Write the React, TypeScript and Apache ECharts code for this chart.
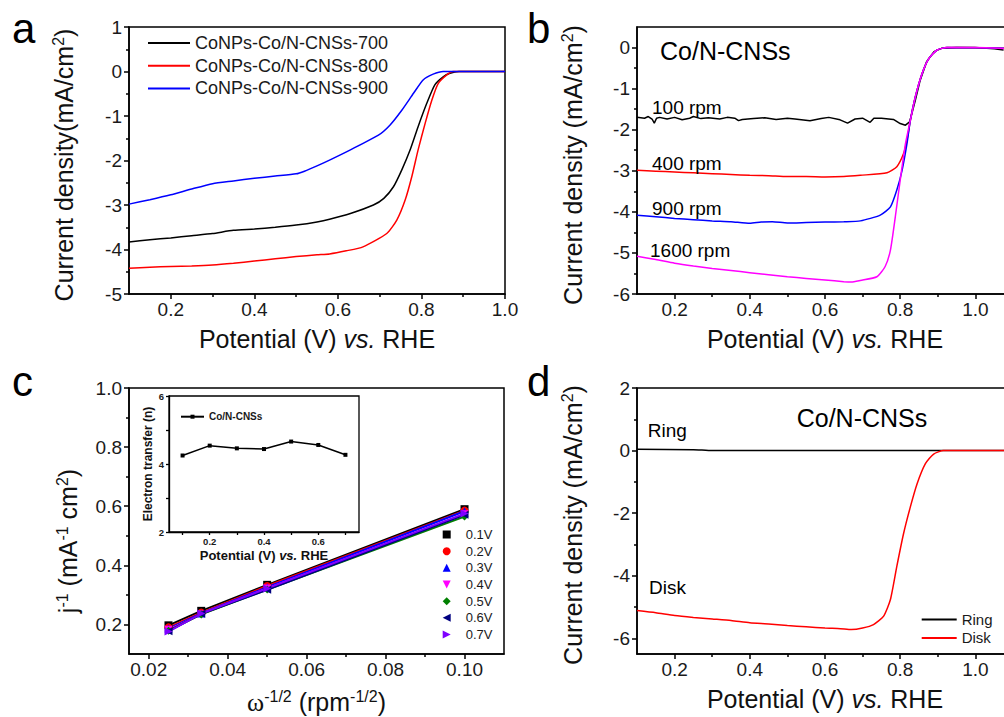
import React, { useEffect, useRef } from "react";
import * as echarts from "echarts";

const FONT = 'Arial, "Liberation Sans", Helvetica, sans-serif';
const SERIF = '"Liberation Serif", "Times New Roman", serif';
const INK = "#111";

// ---------- Panel a ----------
const aNames = ["CoNPs-Co/N-CNSs-700", "CoNPs-Co/N-CNSs-800", "CoNPs-Co/N-CNSs-900"];
const aColors = ["#000000", "#ff0000", "#0000ff"];
const a700 = [[0.10,-3.83],[0.15,-3.78],[0.20,-3.74],[0.25,-3.69],[0.30,-3.64],[0.35,-3.57],[0.40,-3.54],[0.45,-3.50],[0.50,-3.45],[0.55,-3.38],[0.58,-3.32],[0.63,-3.19],[0.685,-3.0],[0.71,-2.85],[0.733,-2.59],[0.753,-2.21],[0.773,-1.76],[0.792,-1.24],[0.813,-0.71],[0.832,-0.30],[0.852,-0.12],[0.868,-0.04],[0.89,0],[1.0,0]];
const a800 = [[0.10,-4.42],[0.15,-4.40],[0.20,-4.38],[0.25,-4.37],[0.30,-4.35],[0.35,-4.31],[0.40,-4.26],[0.45,-4.21],[0.50,-4.16],[0.55,-4.12],[0.58,-4.10],[0.62,-4.03],[0.66,-3.94],[0.717,-3.64],[0.741,-3.34],[0.761,-2.89],[0.777,-2.36],[0.792,-1.76],[0.809,-1.16],[0.825,-0.64],[0.84,-0.27],[0.86,-0.08],[0.876,0],[1.0,0]];
const a900 = [[0.10,-2.98],[0.15,-2.88],[0.20,-2.77],[0.25,-2.64],[0.30,-2.52],[0.35,-2.46],[0.40,-2.40],[0.45,-2.35],[0.50,-2.30],[0.52,-2.24],[0.55,-2.12],[0.58,-1.99],[0.63,-1.76],[0.697,-1.43],[0.725,-1.20],[0.753,-0.87],[0.781,-0.49],[0.804,-0.19],[0.828,-0.06],[0.852,0],[1.0,0]];
const aXMajor = [0.2, 0.4, 0.6, 0.8, 1.0];
const aXMinor = [0.3, 0.5, 0.7, 0.9];
const aYMajor = [-5, -4, -3, -2, -1, 0, 1];
const aYMinor = [-4.5, -3.5, -2.5, -1.5, -0.5, 0.5];

// ---------- Panel b ----------
const bNames = ["100 rpm", "400 rpm", "900 rpm", "1600 rpm"];
const bColors = ["#000000", "#ff0000", "#0000ff", "#ff00ff"];
const b100 = [[0.10,-1.70],[0.12,-1.72],[0.13,-1.68],[0.14,-1.74],[0.146,-1.84],[0.152,-1.72],[0.16,-1.70],[0.18,-1.74],[0.20,-1.70],[0.22,-1.76],[0.24,-1.72],[0.25,-1.68],[0.27,-1.73],[0.29,-1.71],[0.32,-1.74],[0.34,-1.70],[0.36,-1.72],[0.37,-1.78],[0.38,-1.75],[0.41,-1.73],[0.44,-1.71],[0.47,-1.75],[0.50,-1.72],[0.52,-1.74],[0.56,-1.78],[0.59,-1.73],[0.61,-1.70],[0.64,-1.76],[0.66,-1.84],[0.68,-1.74],[0.70,-1.72],[0.72,-1.82],[0.73,-1.72],[0.75,-1.72],[0.782,-1.75],[0.80,-1.85],[0.814,-1.89],[0.825,-1.81],[0.831,-1.61],[0.84,-1.29],[0.853,-0.80],[0.87,-0.35],[0.89,-0.10],[0.91,-0.02],[0.95,0],[1.0,0],[1.05,-0.03],[1.075,-0.06]];
const b400 = [[0.10,-2.99],[0.15,-3.01],[0.20,-3.03],[0.25,-3.05],[0.30,-3.07],[0.35,-3.09],[0.40,-3.11],[0.45,-3.12],[0.50,-3.14],[0.55,-3.14],[0.60,-3.15],[0.65,-3.14],[0.694,-3.11],[0.765,-3.05],[0.791,-2.90],[0.809,-2.58],[0.818,-2.26],[0.827,-1.77],[0.84,-1.21],[0.858,-0.64],[0.876,-0.27],[0.898,-0.06],[0.924,0],[1.1,-0.02]];
const b900 = [[0.10,-4.08],[0.15,-4.12],[0.20,-4.16],[0.25,-4.19],[0.30,-4.22],[0.35,-4.24],[0.40,-4.28],[0.43,-4.25],[0.46,-4.24],[0.50,-4.27],[0.55,-4.26],[0.60,-4.25],[0.65,-4.24],[0.694,-4.22],[0.747,-4.08],[0.774,-3.88],[0.791,-3.47],[0.805,-2.99],[0.818,-2.34],[0.827,-1.77],[0.84,-1.21],[0.858,-0.64],[0.876,-0.27],[0.898,-0.06],[0.924,0],[1.1,-0.02]];
const b1600 = [[0.10,-5.08],[0.15,-5.16],[0.20,-5.25],[0.25,-5.32],[0.30,-5.38],[0.35,-5.43],[0.40,-5.48],[0.45,-5.53],[0.50,-5.58],[0.55,-5.62],[0.60,-5.66],[0.65,-5.70],[0.67,-5.71],[0.694,-5.67],[0.738,-5.58],[0.76,-5.33],[0.774,-4.93],[0.787,-4.12],[0.80,-3.23],[0.814,-2.34],[0.827,-1.77],[0.84,-1.21],[0.858,-0.64],[0.876,-0.27],[0.898,-0.06],[0.924,0],[1.0,0],[1.1,-0.03]];
const bXMajor = [0.2, 0.4, 0.6, 0.8, 1.0];
const bXMinor = [0.3, 0.5, 0.7, 0.9, 1.1];
const bYMajor = [-6, -5, -4, -3, -2, -1, 0];
const bYMinor = [-5.5, -4.5, -3.5, -2.5, -1.5, -0.5];

// ---------- Panel c ----------
const cNames = ["0.1V", "0.2V", "0.3V", "0.4V", "0.5V", "0.6V", "0.7V"];
const cColors = ["#000000", "#ff0000", "#0000ff", "#ff00ff", "#008000", "#000080", "#7f00ff"];
const cSymbols = ["rect", "circle", "triangle", "path://M0,0L10,0L5,10Z", "diamond", "path://M10,0L10,10L0,5Z", "path://M0,0L0,10L10,5Z"];
const cX = [0.025, 0.0333, 0.05, 0.1];
const kl01 = [0.197, 0.246, 0.334, 0.590];
const kl02 = [0.190, 0.240, 0.330, 0.585];
const kl03 = [0.186, 0.237, 0.326, 0.583];
const kl04 = [0.182, 0.234, 0.322, 0.573];
const kl05 = [0.179, 0.234, 0.318, 0.565];
const kl06 = [0.177, 0.236, 0.317, 0.571];
const kl07 = [0.176, 0.237, 0.322, 0.575];
const cValues = [kl01, kl02, kl03, kl04, kl05, kl06, kl07];
const cXMajor = [0.02, 0.04, 0.06, 0.08, 0.1];
const cXMinor = [0.03, 0.05, 0.07, 0.09];
const cYMajor = [0.2, 0.4, 0.6, 0.8, 1.0];
const cYMinor = [0.3, 0.5, 0.7, 0.9];

// inset
const insetName = "Co/N-CNSs";
const insetX = [0.1, 0.2, 0.3, 0.4, 0.5, 0.6, 0.7];
const insetN = [4.25, 4.54, 4.46, 4.44, 4.66, 4.56, 4.27];
const insetXTicks = [0.1, 0.2, 0.3, 0.4, 0.5, 0.6, 0.7];
const insetXLabels = [0.2, 0.4, 0.6];
const insetYTicks = [2, 3, 4, 5, 6];
const insetYLabels = [2, 4, 6];

// ---------- Panel d ----------
const dNames = ["Ring", "Disk"];
const dColors = ["#000000", "#ff0000"];
const dRing = [[0.10,0.04],[0.25,0.03],[0.30,0.0],[1.1,0.0]];
const dDisk = [[0.10,-5.11],[0.15,-5.18],[0.20,-5.27],[0.25,-5.33],[0.30,-5.38],[0.35,-5.43],[0.40,-5.50],[0.45,-5.54],[0.50,-5.59],[0.55,-5.63],[0.60,-5.67],[0.641,-5.69],[0.67,-5.72],[0.70,-5.67],[0.729,-5.56],[0.756,-5.29],[0.774,-4.76],[0.791,-3.70],[0.809,-2.65],[0.827,-1.80],[0.845,-1.06],[0.867,-0.42],[0.889,-0.11],[0.915,0],[1.1,0]];
const dXMajor = [0.2, 0.4, 0.6, 0.8, 1.0];
const dXMinor = [0.3, 0.5, 0.7, 0.9, 1.1];
const dYMajor = [-6, -4, -2, 0, 2];
const dYMinor = [-5, -3, -1, 1];

// ---------- helpers ----------
const f1 = (v: number) => v.toFixed(1);
const f2 = (v: number) => v.toFixed(2);
const fi = (v: number) => String(Math.round(v));

function nameStyle(size: number, padding?: number[], bold?: boolean) {
  const w = bold ? "bold" : "normal";
  return {
    fontSize: size, fontFamily: FONT, color: INK, fontWeight: w, lineHeight: size + 3,
    padding: padding || [0, 0, 0, 0],
    rich: {
      i: { fontSize: size, fontFamily: FONT, fontStyle: "italic", fontWeight: w, color: INK, lineHeight: size + 3 },
      s: { fontSize: Math.round(size * 0.62), fontFamily: FONT, color: INK, verticalAlign: "top", lineHeight: Math.round(size * 0.62) + 1 },
      w: { fontSize: size + 1, fontFamily: SERIF, color: INK, lineHeight: size + 3 },
    },
  };
}

type AxisCfg = {
  grid: number; min: number; max: number; major: number[]; minor: number[]; labels: number[];
  fmt: (v: number) => string; fontSize: number; margin: number; bold?: boolean;
  name?: string; nameGap?: number; nameStyle?: any; tickLen?: number; minorLen?: number; lw?: number;
};

function buildAxes(kind: "x" | "y", c: AxisCfg) {
  const lineStyle = { color: "#000", width: c.lw ?? 1.5 };
  const position = kind === "x" ? "bottom" : "left";
  const major: any = {
    gridIndex: c.grid, type: "value", min: c.min, max: c.max, position,
    axisLine: { show: true, onZero: false, lineStyle },
    axisTick: { show: true, inside: false, length: c.tickLen ?? 5, customValues: c.major, lineStyle },
    axisLabel: {
      show: true, customValues: c.labels, formatter: c.fmt, margin: c.margin, color: "#1a1a1a",
      fontSize: c.fontSize, fontFamily: FONT, fontWeight: c.bold ? "bold" : "normal", hideOverlap: false,
    },
    splitLine: { show: false },
    minorTick: { show: false },
    name: c.name ?? "", nameLocation: "middle", nameGap: c.nameGap ?? 30,
    nameTextStyle: c.nameStyle, nameMoveOverlap: false, nameRotate: kind === "y" ? 90 : 0,
  };
  const out: any[] = [major];
  if (c.minor.length) {
    out.push({
      gridIndex: c.grid, type: "value", min: c.min, max: c.max, position,
      axisLine: { show: false, onZero: false },
      axisTick: { show: true, inside: false, length: c.minorLen ?? 3, customValues: c.minor, lineStyle },
      axisLabel: { show: false },
      splitLine: { show: false },
    });
  }
  return out;
}

function gridBox(left: number, top: number, width: number, height: number, lw = 1.5) {
  return { left, top, width, height, show: true, borderColor: "#000", borderWidth: lw, backgroundColor: "transparent", containLabel: false, outerBoundsMode: "none" };
}

function lineSeries(name: string, data: number[][], color: string, xi: number, yi: number, smooth = true, width = 1.5) {
  return {
    type: "line", name, data, xAxisIndex: xi, yAxisIndex: yi, symbol: "none", showSymbol: false,
    smooth: smooth ? 0.2 : false,
    lineStyle: { color, width }, itemStyle: { color }, color, silent: true, z: 3,
  };
}

function txt(text: string, x: number, y: number, size: number, extra: any = {}) {
  return {
    type: "text", x, y, silent: true, z: 10,
    style: { text, fill: "#000", fontSize: size, fontFamily: FONT, align: "left", verticalAlign: "middle", ...extra },
  };
}

export default function App() {
  const ref = useRef<HTMLDivElement>(null);
  useEffect(() => {
    if (!ref.current) return;
    const chart = echarts.init(ref.current, undefined, { renderer: "svg" });
    const xAxes = [
      ...buildAxes("x", { grid: 0, min: 0.1, max: 1.0, major: aXMajor, minor: aXMinor, labels: aXMajor, fmt: f1, fontSize: 19, margin: 6, name: "Potential (V) {i|vs.} RHE", nameGap: 31, nameStyle: nameStyle(25) }),
      ...buildAxes("x", { grid: 1, min: 0.1, max: 1.1, major: bXMajor, minor: bXMinor, labels: bXMajor, fmt: f1, fontSize: 19, margin: 6, name: "Potential (V) {i|vs.} RHE", nameGap: 31, nameStyle: nameStyle(25) }),
      ...buildAxes("x", { grid: 2, min: 0.015, max: 0.11, major: cXMajor, minor: cXMinor, labels: cXMajor, fmt: f2, fontSize: 19, margin: 6, name: "{w|ω}{s|-1/2} (rpm{s|-1/2})", nameGap: 34, nameStyle: nameStyle(25) }),
      ...buildAxes("x", { grid: 3, min: 0.1, max: 1.1, major: dXMajor, minor: dXMinor, labels: dXMajor, fmt: f1, fontSize: 19, margin: 6, name: "Potential (V) {i|vs.} RHE", nameGap: 31, nameStyle: nameStyle(25) }),
      ...buildAxes("x", { grid: 4, min: 0.05, max: 0.75, major: insetXTicks, minor: [], labels: insetXLabels, fmt: f1, fontSize: 9.5, bold: true, margin: 4, tickLen: 3, lw: 1.3, name: "Potential (V) {i|vs.} RHE", nameGap: 15, nameStyle: nameStyle(13, undefined, true) }),
    ];
    const yAxes = [
      ...buildAxes("y", { grid: 0, min: -5, max: 1, major: aYMajor, minor: aYMinor, labels: aYMajor, fmt: fi, fontSize: 19, margin: 7, name: "Current density(mA/cm{s|2})", nameGap: 51, nameStyle: nameStyle(25, [0, 9, 0, 0]) }),
      ...buildAxes("y", { grid: 1, min: -6, max: 0.5, major: bYMajor, minor: bYMinor, labels: bYMajor, fmt: fi, fontSize: 19, margin: 7, name: "Current density (mA/cm{s|2})", nameGap: 50, nameStyle: nameStyle(25, [0, 9, 0, 0]) }),
      ...buildAxes("y", { grid: 2, min: 0.1, max: 1.0, major: cYMajor, minor: cYMinor, labels: cYMajor, fmt: f1, fontSize: 19, margin: 7, name: "j{s|-1} (mA{s|-1} cm{s|2})", nameGap: 47, nameStyle: nameStyle(25, [0, 40, 0, 0]) }),
      ...buildAxes("y", { grid: 3, min: -6.5, max: 2, major: dYMajor, minor: dYMinor, labels: dYMajor, fmt: fi, fontSize: 19, margin: 7, name: "Current density (mA/cm{s|2})", nameGap: 50, nameStyle: nameStyle(25, [0, 8, 0, 0]) }),
      ...buildAxes("y", { grid: 4, min: 2, max: 6, major: insetYTicks, minor: [], labels: insetYLabels, fmt: fi, fontSize: 9.5, bold: true, margin: 5, tickLen: 3, lw: 1.3, name: "Electron transfer (n)", nameGap: 14, nameStyle: nameStyle(12, undefined, true) }),
    ];

    const aData = [a700, a800, a900];
    const bData = [b100, b400, b900, b1600];
    const dData = [dRing, dDisk];

    const series: any[] = [
      ...aNames.map((n, i) => lineSeries(n, aData[i], aColors[i], 0, 0)),
      ...bNames.map((n, i) => lineSeries(n, bData[i], bColors[i], 2, 2, i !== 0)),
      ...cNames.map((n, i) => ({
        type: "line", name: n, data: cX.map((x, k) => [x, cValues[i][k]]), xAxisIndex: 4, yAxisIndex: 4,
        symbol: cSymbols[i], symbolSize: 8, symbolKeepAspect: true, showSymbol: true,
        lineStyle: { color: cColors[i], width: 2 }, itemStyle: { color: cColors[i] }, color: cColors[i], silent: true, z: 3,
      })),
      ...dNames.map((n, i) => lineSeries(n, dData[i], dColors[i], 6, 6)),
      {
        type: "line", name: insetName, data: insetX.map((x, k) => [x, insetN[k]]), xAxisIndex: 8, yAxisIndex: 8,
        symbol: "rect", symbolSize: 4, showSymbol: true, lineStyle: { color: "#000", width: 1.5 },
        itemStyle: { color: "#000" }, color: "#000", silent: true, z: 4,
      },
    ];

    const option: any = {
      animation: false,
      backgroundColor: "#ffffff",
      grid: [
        gridBox(129, 27, 376, 267),
        gridBox(637, 27, 376, 267),
        gridBox(129, 388, 375, 266),
        gridBox(637, 388, 376, 266),
        gridBox(169, 396, 190, 136, 1.3),
      ],
      xAxis: xAxes,
      yAxis: yAxes,
      legend: [
        {
          data: aNames.map((n) => ({ name: n, icon: "rect" })), left: 148, top: 34, orient: "vertical", padding: 0,
          itemWidth: 42, itemHeight: 2, itemGap: 4.7,
          selectedMode: false, textStyle: { fontSize: 18, fontFamily: FONT, color: "#1a1a1a", lineHeight: 18 },
        },
        {
          data: cNames.map((n, i) => ({ name: n, icon: cSymbols[i] })), left: 442.7, top: 528, orient: "vertical", padding: 0,
          itemWidth: 8, itemHeight: 8, itemGap: 3.67, selectedMode: false,
          textStyle: { fontSize: 13, fontFamily: FONT, color: "#1a1a1a", lineHeight: 13, padding: [0, 0, 0, 10] },
        },
        {
          data: dNames.map((n) => ({ name: n, icon: "rect" })), left: 921.7, top: 612, orient: "vertical", padding: 0,
          itemWidth: 35, itemHeight: 2, itemGap: 3.4,
          selectedMode: false, textStyle: { fontSize: 15, fontFamily: FONT, color: "#1a1a1a", lineHeight: 15 },
        },
        {
          data: [insetName], left: 180, top: 411.7, orient: "vertical", padding: 0, itemWidth: 23, itemHeight: 5,
          selectedMode: false, textStyle: { fontSize: 10, fontFamily: FONT, fontWeight: "bold", color: "#1a1a1a", lineHeight: 10 },
        },
      ],
      graphic: [
        txt("a", 12, 28, 42),
        txt("b", 527, 28, 42),
        txt("c", 12, 381, 42),
        txt("d", 527, 381, 42),
        txt("Co/N-CNSs", 660, 51, 25),
        txt("100 rpm", 652, 107, 19),
        txt("400 rpm", 652, 163.7, 19),
        txt("900 rpm", 652, 208, 19),
        txt("1600 rpm", 650, 250.3, 19),
        txt("Ring", 647.7, 430, 19),
        txt("Disk", 649, 587, 19),
        txt("Co/N-CNSs", 796.7, 418, 25),
      ],
      series,
    };
    chart.setOption(option);
    return () => chart.dispose();
  }, []);
  return (
    <div
      ref={ref}
      style={{ position: "fixed", left: 0, top: 0, width: 1004, height: 717, background: "#fff" }}
    />
  );
}
